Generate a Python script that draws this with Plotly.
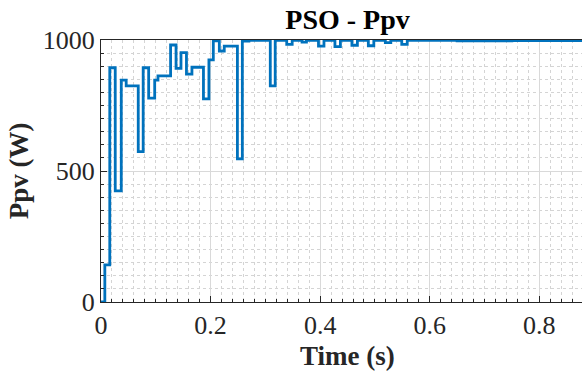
import plotly.graph_objects as go

# Step signal breakpoints (time in s) and PV power levels (W)
time_s = [0, 0.007, 0.016, 0.026, 0.037, 0.046, 0.068, 0.077, 0.087, 0.098,
          0.104, 0.127, 0.137, 0.146, 0.156, 0.166, 0.187, 0.197, 0.205, 0.216,
          0.225, 0.249, 0.258, 0.27, 0.309, 0.318, 0.339, 0.349, 0.367, 0.375,
          0.397, 0.407, 0.427, 0.437, 0.458, 0.468, 0.488, 0.498, 0.519, 0.529,
          0.549, 0.559, 0.65, 0.75, 0.9]
ppv_w = [0, 142, 894, 424, 847, 825, 574, 894, 778, 847,
         863, 981, 892, 952, 870, 896, 775, 924, 997, 958,
         977, 546, 996, 999, 825, 999, 983, 999, 992, 999,
         977, 999, 975, 999, 980, 999, 978, 999, 990, 999,
         983, 999, 997, 998, 998]

x_ticks = [0, 0.2, 0.4, 0.6, 0.8]
x_tick_labels = ["0", "0.2", "0.4", "0.6", "0.8"]
y_ticks = [0, 500, 1000]
y_tick_labels = ["0", "500", "1000"]

FONT = "Liberation Serif"
XMAX_VISIBLE = 0.878
XCENTER = 0.45

fig = go.Figure()
fig.add_trace(go.Scatter(
    x=time_s, y=ppv_w, mode="lines", line_shape="hv",
    line=dict(color="#0072BD", width=2.8), showlegend=False,
))

fig.update_layout(
    width=582, height=376,
    margin=dict(l=101, r=0, t=40, b=74),
    paper_bgcolor="white", plot_bgcolor="white",
    font=dict(family=FONT, color="#262626"),
    title=dict(text="<b>PSO - Ppv</b>", x=XCENTER / XMAX_VISIBLE, xref="paper",
               xanchor="center", y=1 - 19 / 376, yref="container", yanchor="middle",
               pad=dict(t=0, b=0), font=dict(size=28, color="#000000", family=FONT)),
    annotations=[dict(text="<b>Time (s)</b>", x=XCENTER, xref="x", y=0, yref="paper",
                      yshift=-37, yanchor="top", showarrow=False,
                      font=dict(size=27, color="#262626", family=FONT))],
)

fig.update_xaxes(
    range=[0, XMAX_VISIBLE], tickvals=x_ticks, ticktext=x_tick_labels,
    showline=True, linecolor="#262626", linewidth=1, mirror=True,
    ticks="inside", ticklen=6, tickcolor="#262626",
    tickfont=dict(size=26, color="#262626", family=FONT),
    showgrid=True, gridcolor="#d9d9d9", gridwidth=1, zeroline=False,
    minor=dict(dtick=0.02, tick0=0, showgrid=True, gridcolor="#d4d4d4",
               griddash="dot", ticks="inside", ticklen=3, tickcolor="#262626"),
)
fig.update_yaxes(
    range=[0, 1000], tickvals=y_ticks, ticktext=y_tick_labels,
    showline=True, linecolor="#262626", linewidth=1, mirror=False,
    ticks="inside", ticklen=6, tickcolor="#262626",
    tickfont=dict(size=26, color="#262626", family=FONT),
    showgrid=True, gridcolor="#d9d9d9", gridwidth=1, zeroline=False,
    minor=dict(dtick=50, tick0=0, showgrid=True, gridcolor="#d4d4d4",
               griddash="dot", ticks="inside", ticklen=3, tickcolor="#262626"),
    title=dict(text="<b>Ppv (W)</b>", font=dict(size=27, color="#262626", family=FONT),
               standoff=6),
)

fig.write_html("out.html")
